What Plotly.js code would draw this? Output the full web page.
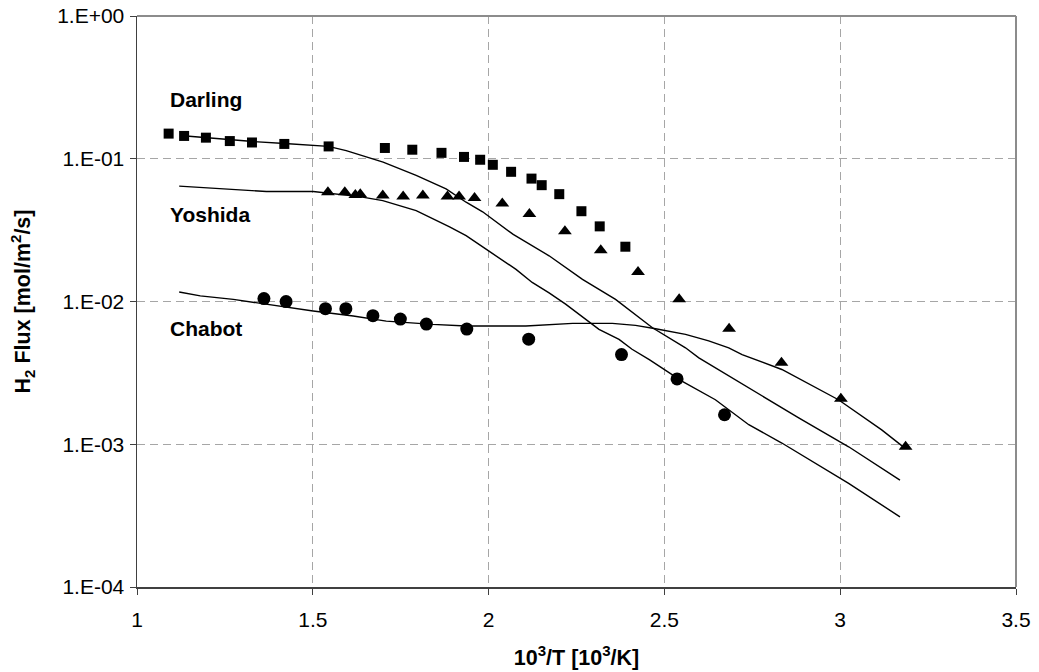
<!DOCTYPE html>
<html>
<head>
<meta charset="utf-8">
<script src="https://cdn.plot.ly/plotly-3.0.1.min.js"></script>
<style>html,body{margin:0;padding:0;background:#fff;}#chart{width:1039px;height:672px;}</style>
</head>
<body>
<div id="chart"></div>
<script>
// Measured points
const darlingX = [1.090, 1.134, 1.196, 1.264, 1.327, 1.419, 1.545, 1.705, 1.783, 1.866, 1.930, 1.976, 2.012, 2.064, 2.122, 2.151, 2.201, 2.264, 2.316, 2.389];
const darlingY = [0.150, 0.1445, 0.1405, 0.133, 0.130, 0.127, 0.122, 0.119, 0.1157, 0.110, 0.103, 0.0984, 0.0907, 0.0810, 0.0726, 0.0653, 0.0565, 0.0429, 0.0336, 0.0242];

const yoshidaX = [1.543, 1.591, 1.621, 1.635, 1.699, 1.757, 1.813, 1.883, 1.916, 1.960, 2.039, 2.116, 2.217, 2.319, 2.425, 2.542, 2.684, 2.833, 3.002, 3.186];
const yoshidaY = [0.0583, 0.0583, 0.0558, 0.0565, 0.0552, 0.0543, 0.0552, 0.0543, 0.0543, 0.0532, 0.0485, 0.0410, 0.0310, 0.0229, 0.0161, 0.01035, 0.00644, 0.00372, 0.00208, 0.00096];

const chabotX = [1.361, 1.424, 1.536, 1.594, 1.671, 1.749, 1.823, 1.938, 2.114, 2.378, 2.536, 2.671];
const chabotY = [0.01048, 0.00998, 0.00891, 0.00891, 0.00796, 0.00753, 0.00695, 0.00641, 0.00545, 0.00425, 0.00287, 0.00161];

// Model curves
const darlingModelX = [1.131, 1.200, 1.270, 1.330, 1.420, 1.500, 1.544, 1.595, 1.700, 1.794, 1.879, 1.936, 1.983, 2.070, 2.172, 2.267, 2.361, 2.466, 2.560, 2.598, 2.740, 2.882, 3.024, 3.170];
const darlingModelY = [0.145, 0.140, 0.135, 0.132, 0.128, 0.125, 0.122, 0.114, 0.0948, 0.0764, 0.0615, 0.0496, 0.0425, 0.0295, 0.0209, 0.0143, 0.01035, 0.00655, 0.00474, 0.00403, 0.00248, 0.00153, 0.00096, 0.00056];

const yoshidaModelX = [1.120, 1.254, 1.368, 1.501, 1.558, 1.633, 1.699, 1.794, 1.889, 1.936, 1.999, 2.078, 2.124, 2.172, 2.219, 2.314, 2.371, 2.408, 2.457, 2.551, 2.645, 2.740, 2.834, 2.929, 3.024, 3.170];
const yoshidaModelY = [0.0643, 0.0615, 0.0589, 0.0589, 0.0567, 0.0543, 0.0509, 0.0433, 0.0333, 0.0289, 0.0227, 0.0168, 0.0136, 0.0115, 0.00958, 0.00638, 0.00542, 0.00463, 0.00392, 0.00276, 0.00205, 0.00137, 0.00102, 0.000736, 0.000532, 0.00031];

const chabotModelX = [1.120, 1.180, 1.274, 1.369, 1.501, 1.615, 1.709, 1.841, 1.936, 2.106, 2.172, 2.239, 2.352, 2.418, 2.475, 2.560, 2.626, 2.683, 2.721, 2.834, 2.995, 3.118, 3.184];
const chabotModelY = [0.01166, 0.01094, 0.01035, 0.00957, 0.00858, 0.00791, 0.00729, 0.00691, 0.00673, 0.00673, 0.00684, 0.00703, 0.00703, 0.0068, 0.00645, 0.00588, 0.0053, 0.00474, 0.00425, 0.00334, 0.00205, 0.00126, 0.00094];

const yTickVals = [1, 0.1, 0.01, 0.001, 0.0001];
const yTickText = ['1.E+00', '1.E-01', '1.E-02', '1.E-03', '1.E-04'];
const xTickVals = [1, 1.5, 2, 2.5, 3, 3.5];
const xTickText = ['1', '1.5', '2', '2.5', '3', '3.5'];

const seriesLabels = ['Darling', 'Yoshida', 'Chabot'];
const labelY = [0.26, 0.041, 0.0065];

const FONT = 'Liberation Sans, Arial, sans-serif';
const lineStyle = {color: '#000', width: 1.4};

const traces = [
  {x: darlingModelX, y: darlingModelY, mode: 'lines', line: lineStyle},
  {x: yoshidaModelX, y: yoshidaModelY, mode: 'lines', line: lineStyle},
  {x: chabotModelX, y: chabotModelY, mode: 'lines', line: lineStyle},
  {x: darlingX, y: darlingY, mode: 'markers', marker: {symbol: 'square', size: 10, color: '#000'}},
  {x: yoshidaX, y: yoshidaY, mode: 'markers', marker: {symbol: 'triangle-up', size: 12, color: '#000'}},
  {x: chabotX, y: chabotY, mode: 'markers', marker: {symbol: 'circle', size: 13, color: '#000'}}
];

const annotations = seriesLabels.map((t, i) => ({
  x: 1.087, y: Math.log10(labelY[i]), xref: 'x', yref: 'y',
  text: '<b>' + t + '</b>', showarrow: false, xanchor: 'left', yanchor: 'middle',
  font: {family: FONT, size: 21, color: '#000'}
}));

const layout = {
  width: 1039, height: 672,
  margin: {l: 137, r: 23, t: 16, b: 85},
  paper_bgcolor: '#fff', plot_bgcolor: '#fff',
  showlegend: false,
  font: {family: FONT, size: 21, color: '#000'},
  xaxis: {
    range: [1, 3.5], tickvals: xTickVals, ticktext: xTickText,
    showgrid: true, gridcolor: '#a6a6a6', griddash: '8px,5px', gridwidth: 1,
    showline: true, linecolor: '#404040', linewidth: 1.5,
    ticks: 'outside', ticklen: 6, tickcolor: '#404040',
    ticklabelstandoff: 7,
    zeroline: false,
    tickfont: {family: FONT, size: 21, color: '#000'},
    title: {text: '<b>10<sup>3</sup>/T [10<sup>3</sup>/K]</b>', font: {family: FONT, size: 21.5, color: '#000'}, standoff: 20}
  },
  yaxis: {
    type: 'log', range: [-4, 0], tickvals: yTickVals, ticktext: yTickText,
    showgrid: true, gridcolor: '#a6a6a6', griddash: '8px,5px', gridwidth: 1,
    showline: true, linecolor: '#404040', linewidth: 1.5,
    ticks: 'outside', ticklen: 6, tickcolor: '#404040',
    ticklabelstandoff: 1,
    zeroline: false,
    tickfont: {family: FONT, size: 21, color: '#000'},
    title: {text: '<b>H<sub>2</sub> Flux [mol/m<sup>2</sup>/s]</b>', font: {family: FONT, size: 21.5, color: '#000'}, standoff: 20}
  },
  shapes: [
    {type: 'line', xref: 'paper', yref: 'paper', x0: 0, x1: 1, y0: 1, y1: 1, line: {color: '#8c8c8c', width: 2}},
    {type: 'line', xref: 'paper', yref: 'paper', x0: 1, x1: 1, y0: 0, y1: 1, line: {color: '#8c8c8c', width: 2}}
  ],
  annotations: annotations
};

Plotly.newPlot('chart', traces, layout, {staticPlot: true, displayModeBar: false});
</script>
</body>
</html>
